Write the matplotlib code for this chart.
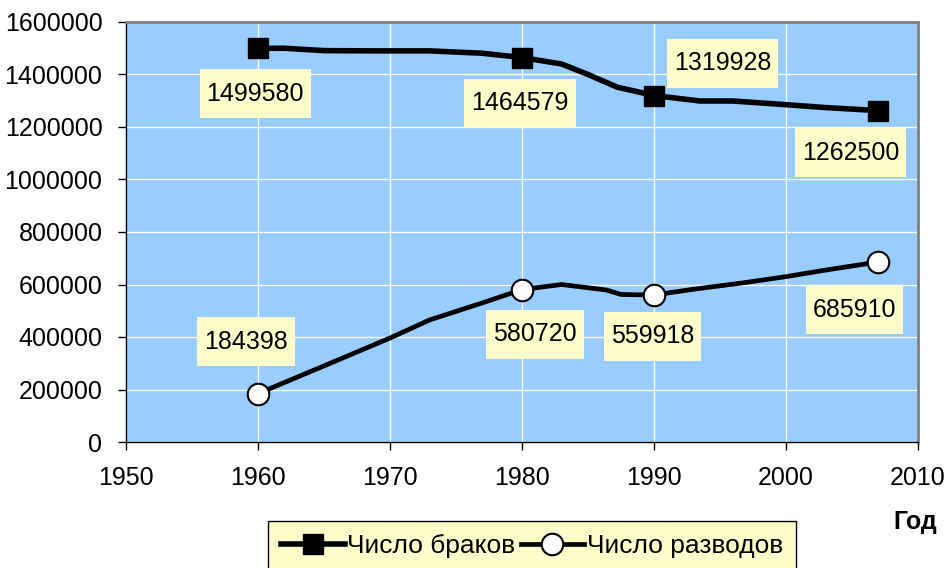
import matplotlib.pyplot as plt
from matplotlib.patches import Rectangle
from matplotlib.ticker import FuncFormatter

plt.rcParams["font.family"] = ["Liberation Sans", "DejaVu Sans"]

marr_years = [1960, 1962, 1965, 1969, 1973, 1977, 1980, 1983, 1985, 1987.2, 1990, 1993.5, 1996, 2000, 2003, 2007]
marr_values = [1499580, 1500000, 1491000, 1490000, 1490000, 1481000, 1464579, 1440000, 1400000, 1352000,
               1319928, 1299000, 1299000, 1285000, 1274000, 1262500]
marr_marks = [0, 6, 10, 15]

# Число разводов (divorces)
div_years = [1960, 1965, 1970, 1973, 1977, 1980, 1983, 1986.4, 1987.5, 1990, 1993, 1997, 2000, 2003, 2007]
div_values = [184398, 290000, 396000, 465000, 530000, 580720, 600000, 579000, 562000, 559918,
              582000, 608000, 630000, 655000, 685910]
div_marks = [0, 5, 9, 14]

# label texts and where their yellow boxes sit (year, value)
marr_labels = [(1499580, 1959.8, 1326000), (1464579, 1979.85, 1290000),
               (1319928, 1995.2, 1442000), (1262500, 2004.9, 1101000)]
div_labels = [(184398, 1959.1, 381000), (580720, 1981.0, 411000),
              (559918, 1989.9, 402000), (685910, 2005.2, 503000)]

FS = 18
LEG_FS = 19

fig = plt.figure(figsize=(9.52, 5.68), dpi=100)
ax = fig.add_axes([126 / 952, 1 - 442 / 568, 792 / 952, 420 / 568])
ax.set_facecolor("#99CCFF")

ax.plot(marr_years, marr_values, color="black", lw=4.0, solid_joinstyle="round",
        marker="s", markevery=marr_marks, ms=15, mfc="black", mec="black", label="Число браков")
ax.plot(div_years, div_values, color="black", lw=3.4, solid_joinstyle="round",
        marker="o", markevery=div_marks, ms=15.5, mfc="white", mec="black", mew=1.5, label="Число разводов")

texts = []
for v, lx, ly in marr_labels + div_labels:
    texts.append(ax.text(lx, ly, str(v), ha="center", va="center", fontsize=FS, zorder=6))

ax.set_xlim(1950, 2010)
ax.set_ylim(0, 1600000)
ax.set_xticks(range(1950, 2011, 10))
ax.set_yticks(range(0, 1600001, 200000))
ax.yaxis.set_major_formatter(FuncFormatter(lambda v, p: f"{int(v)}"))
ax.tick_params(labelsize=FS, length=6, width=1, color="black", direction="out")
ax.tick_params(axis="x", pad=11)
ax.tick_params(axis="y", pad=11)
ax.grid(True, color="white", lw=1)
ax.set_axisbelow(True)
for s in ["top", "right"]:
    ax.spines[s].set_color("#808080")
    ax.spines[s].set_linewidth(2)
for s in ["left", "bottom"]:
    ax.spines[s].set_color("black")
    ax.spines[s].set_linewidth(1)

fig.text(915 / 952, 1 - 522 / 568, "Год", ha="center", va="center", fontsize=FS, fontweight="bold")

leg = fig.legend(loc="upper left", bbox_to_anchor=(268 / 952, 1 - 521 / 568), ncol=2,
                 fontsize=LEG_FS, frameon=True, fancybox=False, borderpad=0.5, borderaxespad=0,
                 handlelength=2.4, handletextpad=0.1, columnspacing=0.2)
leg.get_frame().set_facecolor("#FFFFCC")
leg.get_frame().set_edgecolor("black")
leg.get_frame().set_linewidth(1)
leg.get_frame().set_alpha(1)

# yellow boxes behind the value labels: wide vertical padding like the original
fig.canvas.draw()
inv = ax.transData.inverted()
for t in texts:
    bb = t.get_window_extent()
    cx, cy = (bb.x0 + bb.x1) / 2, (bb.y0 + bb.y1) / 2
    w, h = bb.width + 14, 49
    (x0, y0) = inv.transform((cx - w / 2, cy - h / 2))
    (x1, y1) = inv.transform((cx + w / 2, cy + h / 2))
    ax.add_patch(Rectangle((x0, y0), x1 - x0, y1 - y0, fc="#FFFFCC", ec="none", zorder=5, clip_on=False))

fig.savefig("out.png", dpi=100)
